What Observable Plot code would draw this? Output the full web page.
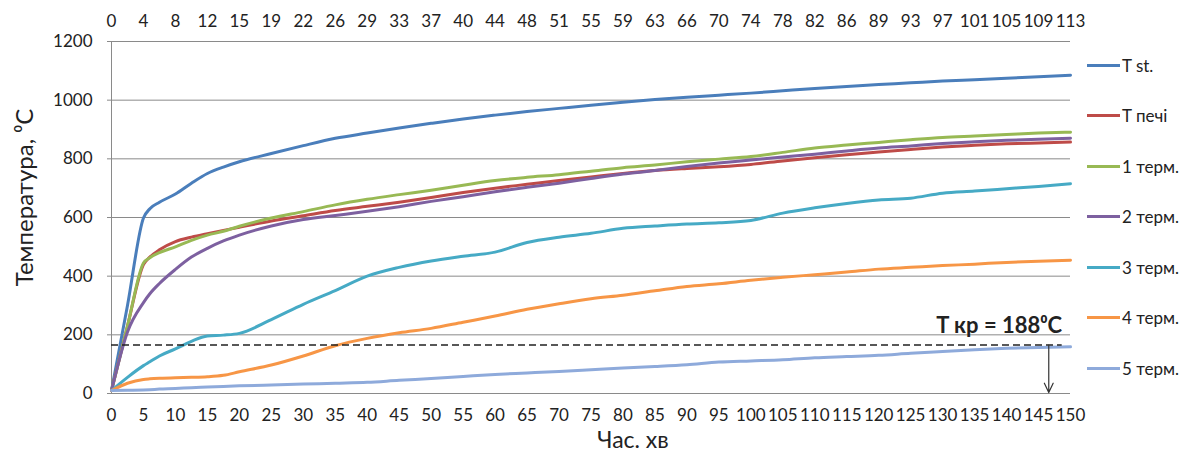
<!DOCTYPE html>
<html><head><meta charset="utf-8">
<script src="https://cdn.jsdelivr.net/npm/d3@7"></script>
<script src="https://cdn.jsdelivr.net/npm/@observablehq/plot@0.6"></script>
<style>
body{margin:0;background:#fff;font-family:Lato,"Open Sans",sans-serif;}
#wrap{position:relative;width:1183px;height:452px;}
.item{position:absolute;left:1087px;display:flex;align-items:center;height:20px;white-space:nowrap;font-size:17px;color:#222;}
.sw{width:33px;height:3px;margin-right:2px;}
</style></head><body><div id="wrap"></div>
<script>
// ---- data ----
const times  = [0, 2.5, 5, 6, 7.5, 10, 12.5, 15, 17.5, 20, 25, 30, 35, 40, 45, 50, 55, 60, 65, 70, 75, 80, 85, 90, 95, 100, 105, 110, 115, 120, 125, 130, 135, 140, 145, 150];
const tSt    = [10, 300, 598, 630, 652, 680, 717, 750, 772, 790, 818, 845, 870, 888, 905, 921, 936, 949, 961, 972, 983, 993, 1002, 1010, 1017, 1024, 1032, 1040, 1047, 1053, 1059, 1065, 1070, 1075, 1080, 1085];
const tPechi = [10, 230, 440, 465, 490, 518, 533, 545, 556, 567, 588, 606, 624, 638, 652, 668, 685, 700, 713, 726, 738, 750, 760, 767, 773, 781, 793, 804, 814, 823, 832, 840, 846, 851, 854, 857];
const term1  = [10, 230, 445, 463, 480, 500, 522, 540, 553, 570, 598, 620, 643, 662, 678, 693, 710, 726, 737, 746, 758, 770, 779, 790, 799, 808, 822, 837, 847, 856, 865, 873, 878, 883, 888, 891];
const term2  = [10, 210, 310, 340, 375, 423, 465, 495, 520, 540, 571, 593, 607, 621, 637, 655, 671, 688, 703, 717, 733, 748, 760, 774, 786, 796, 806, 816, 827, 837, 844, 852, 858, 863, 867, 870];
const term3  = [10, 55, 95, 108, 128, 152, 178, 196, 199, 205, 252, 304, 351, 400, 430, 452, 468, 482, 515, 533, 546, 563, 571, 578, 582, 590, 615, 633, 648, 660, 666, 683, 690, 698, 706, 715];
const term4  = [10, 35, 48, 50, 52, 54, 55, 57, 62, 74, 97, 128, 163, 188, 207, 222, 243, 264, 287, 306, 323, 335, 350, 365, 374, 386, 396, 405, 414, 424, 430, 436, 441, 447, 451, 454];
const term5  = [10, 11, 12, 13, 15, 17, 20, 22, 24, 26, 29, 32, 35, 38, 45, 51, 58, 65, 70, 75, 81, 87, 92, 98, 107, 111, 115, 122, 126, 130, 137, 143, 149, 154, 157, 159];
const seriesNames  = ["T st.", "T печі", "1 терм.", "2 терм.", "3 терм.", "4 терм.", "5 терм."];
const seriesValues = [tSt, tPechi, term1, term2, term3, term4, term5];
const seriesColors = ["#4a7ebb", "#be4b48", "#98b954", "#7d60a0", "#46aac5", "#f79646", "#8eaadb"];
const xTicks    = d3.range(0, 151, 5);
const topLabels = ["0","4","8","12","15","19","22","26","29","33","37","40","44","48","51","55","59","63","66","70","74","78","82","86","89","93","97","101","105","109","113"];
const yTicks    = [0, 200, 400, 600, 800, 1000, 1200];
const critLine  = 165;          // drawn level of the dashed line
const critLabel = "T кр = 188⁰C";
const critEndX  = 148.7;
const arrowX    = 146.6;
const xTitle = "Час. хв";
const yTitle = "Температура, ⁰C";

// ---- build table ----
const rows = [];
seriesNames.forEach((name, s) => times.forEach((t, i) => rows.push({series: name, t, v: seriesValues[s][i]})));

const grid = "#8a8a8a", ink = "#222";
const chart = Plot.plot({
  width: 1183, height: 452,
  marginLeft: 111, marginRight: 113, marginTop: 41, marginBottom: 59,
  style: {fontFamily: "Lato, 'Open Sans', sans-serif", color: ink, background: "#fff", overflow: "visible"},
  x: {domain: [0, 150]},
  y: {domain: [0, 1200]},
  color: {domain: seriesNames, range: seriesColors},
  marks: [
    Plot.ruleY(yTicks, {stroke: grid, strokeWidth: 1}),
    Plot.ruleX([0], {stroke: grid, strokeWidth: 1}),
    Plot.axisY(yTicks, {anchor: "left", tickSize: 4, tickPadding: 15, label: null, fontSize: 17, stroke: grid, fill: ink, tickFormat: d => String(d)}),
    Plot.axisX(xTicks, {anchor: "bottom", tickSize: 0, tickPadding: 15, label: null, fontSize: 17, fill: ink, tickFormat: d => String(d)}),
    Plot.axisX(xTicks, {anchor: "top", tickSize: 0, tickPadding: 15, label: null, fontSize: 17, fill: ink,
      tickFormat: d => topLabels[xTicks.indexOf(d)]}),
    Plot.line(rows, {x: "t", y: "v", z: "series", stroke: "series", strokeWidth: 3, curve: "monotone-x"}),
    Plot.ruleY([critLine], {x1: 0, x2: critEndX, stroke: ink, strokeWidth: 1.5, strokeDasharray: "7,4"}),
    Plot.arrow([{x: arrowX, y1: critLine, y2: 3}], {x1: "x", x2: "x", y1: "y1", y2: "y2", stroke: "#333", strokeWidth: 1.2, headLength: 13, headAngle: 50}),
    Plot.text([critLabel], {x: critEndX, y: critLine, text: d => d, dy: -12, textAnchor: "end", lineAnchor: "bottom", fontWeight: "bold", fontSize: 22, fill: ink}),
    Plot.text([yTitle], {frameAnchor: "left", text: d => d, dx: -86, dy: -20, rotate: -90, fontSize: 24, fill: ink, textAnchor: "middle", lineAnchor: "middle"}),
    Plot.text([xTitle], {frameAnchor: "bottom", text: d => d, dx: 42, dy: 47, fontSize: 23, fill: ink, textAnchor: "middle", lineAnchor: "middle"})
  ]
});
const wrap = document.getElementById("wrap");
wrap.appendChild(chart);
const legendY = [65, 115.5, 166, 216.5, 267, 317.5, 368];
seriesNames.forEach((name, i) => {
  const it = document.createElement("div");
  it.className = "item";
  it.style.top = (legendY[i] - 10) + "px";
  it.innerHTML = `<span class="sw" style="background:${seriesColors[i]}"></span><span>${name}</span>`;
  wrap.appendChild(it);
});
</script></body></html>
